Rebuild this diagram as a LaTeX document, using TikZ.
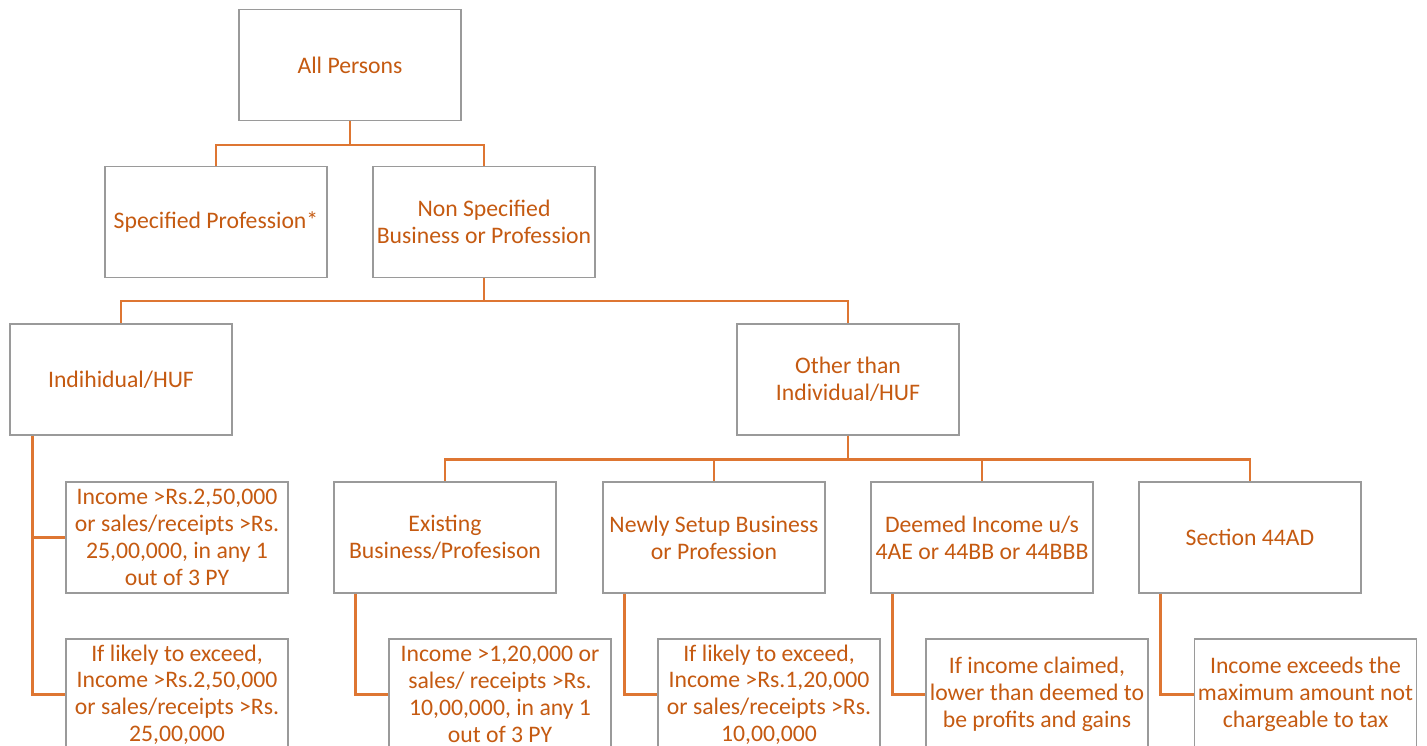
\documentclass[tikz,border=0pt]{standalone}
\usepackage{fontspec}
\setmainfont{Carlito}
\usepackage{tikz}
\usetikzlibrary{positioning}

\definecolor{txtorange}{HTML}{C55A11}
\definecolor{lineorange}{HTML}{DE7632}
\definecolor{boxgray}{HTML}{9A9A9A}

\begin{document}
\begin{tikzpicture}[x=1pt, y=-1pt,
  box/.style={draw=boxgray, line width=1.3pt, fill=white, text=txtorange,
    minimum width=222pt, minimum height=111pt, align=center, inner sep=2pt,
    font=\fontsize{23.7}{26.8}\selectfont},
  link/.style={draw=lineorange, line width=2.6pt}]
\useasboundingbox (0,0) rectangle (1427,746);
\clip (0,0) rectangle (1427,746);
% top levels
\node[box] (allp) at (350,65) {All Persons};
\node[box] (spec) at (216,222) {Specified Profession*};
\node[box] (nonspec) at (484,222) {Non Specified\\Business or Profession};
\node[box] (indiv) at (121,379.5) {Indihidual/HUF};
\node[box] (other) at (848,379.5) {Other than\\Individual/HUF};
% third level
\node[box] (exist) at (445,537.5) {Existing\\Business/Profesison};
\node[box] (newly) at (714,537.5) {Newly Setup Business\\or Profession};
\node[box] (deemed) at (982,537.5) {Deemed Income u/s\\4AE or 44BB or 44BBB};
\node[box] (sec) at (1250,537.5) {Section 44AD};
% conditions
\node[box] (indA) at (177,537.5) {Income >Rs.2,50,000\\or sales/receipts >Rs.\\25,00,000, in any 1\\out of 3 PY};
\node[box] (indB) at (177,694.5) {If likely to exceed,\\Income >Rs.2,50,000\\or sales/receipts >Rs.\\25,00,000};
\node[box] (existA) at (500,694.5) {Income >1,20,000 or\\sales/ receipts >Rs.\\10,00,000, in any 1\\out of 3 PY};
\node[box] (newlyA) at (769,694.5) {If likely to exceed,\\Income >Rs.1,20,000\\or sales/receipts >Rs.\\10,00,000};
\node[box] (deemedA) at (1037,694.5) {If income claimed,\\lower than deemed to\\be profits and gains};
\node[box] (secA) at (1305.5,694.5) {Income exceeds the\\maximum amount not\\chargeable to tax};
% tree lines
\draw[link] (allp.south) -- ++(0,24) -| (spec.north);
\draw[link] (allp.south) -- ++(0,24) -| (nonspec.north);
\draw[link] (nonspec.south) -- ++(0,23) -| (indiv.north);
\draw[link] (nonspec.south) -- ++(0,23) -| (other.north);
\foreach \n in {exist,newly,deemed,sec}
  \draw[link] (other.south) -- ++(0,24) -| (\n.north);
% side lines
\draw[link] ([xshift=23pt]indiv.south west) |- (indA.west);
\draw[link] ([xshift=23pt]indiv.south west) |- (indB.west);
\draw[link] ([xshift=22pt]exist.south west) |- (existA.west);
\draw[link] ([xshift=22pt]newly.south west) |- (newlyA.west);
\draw[link] ([xshift=22pt]deemed.south west) |- (deemedA.west);
\draw[link] ([xshift=22pt]sec.south west) |- (secA.west);
\end{tikzpicture}
\end{document}
